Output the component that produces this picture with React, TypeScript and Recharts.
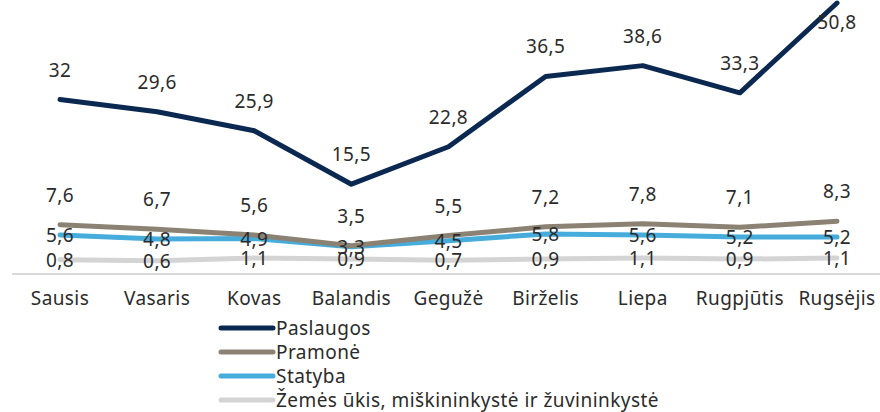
import React from 'react';
import { LineChart, Line, XAxis, YAxis, Legend, LabelList } from 'recharts';

const months = ['Sausis', 'Vasaris', 'Kovas', 'Balandis', 'Gegužė', 'Birželis', 'Liepa', 'Rugpjūtis', 'Rugsėjis'];
const paslaugos = [32, 29.6, 25.9, 15.5, 22.8, 36.5, 38.6, 33.3, 50.8];
const pramone = [7.6, 6.7, 5.6, 3.5, 5.5, 7.2, 7.8, 7.1, 8.3];
const statyba = [5.6, 4.8, 4.9, 3.3, 4.5, 5.8, 5.6, 5.2, 5.2];
const zemes = [0.8, 0.6, 1.1, 0.9, 0.7, 0.9, 1.1, 0.9, 1.1];

const seriesNames = ['Paslaugos', 'Pramonė', 'Statyba', 'Žemės ūkis, miškininkystė ir žuvininkystė'];
const colors = ['#0b2850', '#8c8273', '#45acdc', '#d4d4d4'];

const data = months.map((m, i) => ({
  month: m,
  paslaugos: paslaugos[i],
  pramone: pramone[i],
  statyba: statyba[i],
  zemes: zemes[i],
}));

const FONT = '"Noto Sans", "Open Sans", sans-serif';
const TEXT = '#2b2b2b';
const fmt = (v: number) => String(v).replace('.', ',');

const makeLabel = (dyCenter: number, minY: number) => (props: any) => {
  const { x, y, value } = props;
  const cy = Math.max(y + dyCenter, minY);
  return (
    <text
      x={x}
      y={cy}
      textAnchor="middle"
      dominantBaseline="central"
      fontSize={19}
      letterSpacing={0.4}
      fontFamily={FONT}
      fill={TEXT}
    >
      {fmt(value)}
    </text>
  );
};

const renderLegend = () => (
  <div style={{ fontFamily: FONT, fontSize: 19, letterSpacing: 0.45, color: TEXT }}>
    {seriesNames.map((n, i) => (
      <div key={n} style={{ display: 'flex', alignItems: 'center', height: 24, lineHeight: '24px' }}>
        <svg width={60} height={24} style={{ display: 'block' }}>
          <line x1={5} y1={12} x2={57} y2={12} stroke={colors[i]} strokeWidth={5} strokeLinecap="round" />
        </svg>
        <span style={{ whiteSpace: 'nowrap' }}>{n}</span>
      </div>
    ))}
  </div>
);

export default function App() {
  return (
    <div style={{ position: 'absolute', left: 0, top: 0, width: 880, height: 412, background: '#fff' }}>
      <LineChart
        width={880}
        height={412}
        data={data}
        margin={{ top: 2, right: 0, left: 12, bottom: 108 }}
      >
        <XAxis
          dataKey="month"
          axisLine={{ stroke: '#d9d9d9', strokeWidth: 2 }}
          tickLine={false}
          tickMargin={12}
          padding={{ left: 48, right: 43 }}
          tick={{ fontSize: 19, fontFamily: FONT, fill: TEXT, letterSpacing: 0.4 }}
          interval={0}
          height={30}
        />
        <YAxis hide domain={[-2, 51]} />
        <Legend
          layout="vertical"
          align="center"
          verticalAlign="middle"
          content={renderLegend}
          wrapperStyle={{ position: 'absolute', left: 216, top: 316, width: 520, height: 96 }}
        />
        <Line dataKey="zemes" name={seriesNames[3]} stroke={colors[3]} strokeWidth={5} dot={false} isAnimationActive={false} strokeLinecap="round" strokeLinejoin="round">
          <LabelList dataKey="zemes" content={makeLabel(0, -100)} />
        </Line>
        <Line dataKey="statyba" name={seriesNames[2]} stroke={colors[2]} strokeWidth={5} dot={false} isAnimationActive={false} strokeLinecap="round" strokeLinejoin="round">
          <LabelList dataKey="statyba" content={makeLabel(0, -100)} />
        </Line>
        <Line dataKey="pramone" name={seriesNames[1]} stroke={colors[1]} strokeWidth={5} dot={false} isAnimationActive={false} strokeLinecap="round" strokeLinejoin="round">
          <LabelList dataKey="pramone" content={makeLabel(-30, -100)} />
        </Line>
        <Line dataKey="paslaugos" name={seriesNames[0]} stroke={colors[0]} strokeWidth={5} dot={false} isAnimationActive={false} strokeLinecap="round" strokeLinejoin="round">
          <LabelList dataKey="paslaugos" content={makeLabel(-30, 22)} />
        </Line>
      </LineChart>
    </div>
  );
}
